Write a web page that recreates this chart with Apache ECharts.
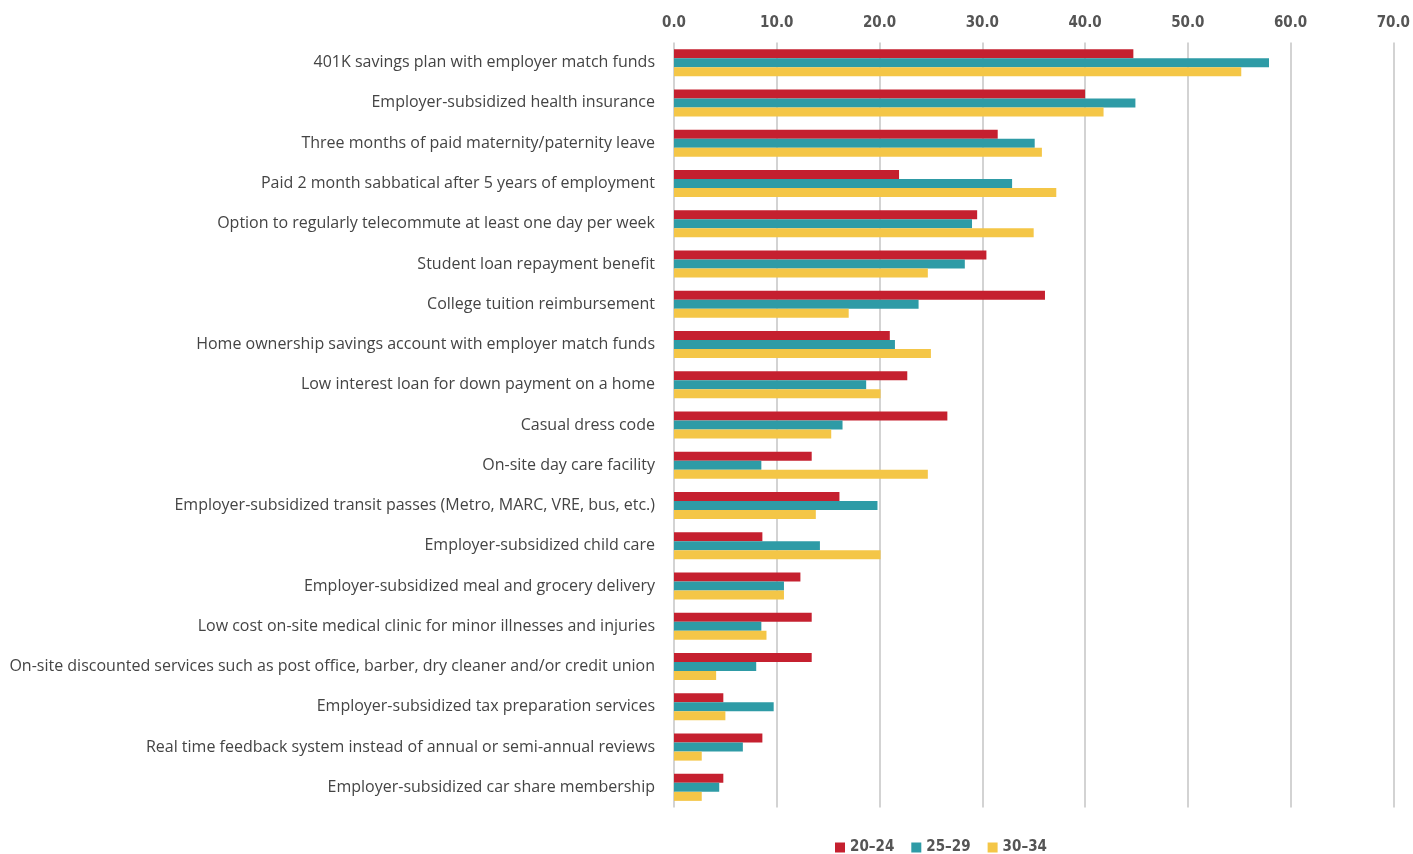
<!DOCTYPE html>
<html>
<head>
<meta charset="utf-8">
<script src="https://cdn.jsdelivr.net/npm/echarts@6/dist/echarts.min.js"></script>
<style>
  html, body { margin: 0; padding: 0; background: #fff; }
  #chart { width: 1413px; height: 854px; }
</style>
</head>
<body>
<div id="chart"></div>
<script>
// categories, top to bottom
const benefits = [
  '401K savings plan with employer match funds',
  'Employer-subsidized health insurance',
  'Three months of paid maternity/paternity leave',
  'Paid 2 month sabbatical after 5 years of employment',
  'Option to regularly telecommute at least one day per week',
  'Student loan repayment benefit',
  'College tuition reimbursement',
  'Home ownership savings account with employer match funds',
  'Low interest loan for down payment on a home',
  'Casual dress code',
  'On-site day care facility',
  'Employer-subsidized transit passes (Metro, MARC, VRE, bus, etc.)',
  'Employer-subsidized child care',
  'Employer-subsidized meal and grocery delivery',
  'Low cost on-site medical clinic for minor illnesses and injuries',
  'On-site discounted services such as post office, barber, dry cleaner and/or credit union',
  'Employer-subsidized tax preparation services',
  'Real time feedback system instead of annual or semi-annual reviews',
  'Employer-subsidized car share membership'
]

// values per age group
const age20to24 = [44.7, 40.0, 31.5, 21.9, 29.5, 30.4, 36.1, 21.0, 22.7, 26.6, 13.4, 16.1, 8.6, 12.3, 13.4, 13.4, 4.8, 8.6, 4.8]
const age25to29 = [57.9, 44.9, 35.1, 32.9, 29.0, 28.3, 23.8, 21.5, 18.7, 16.4, 8.5, 19.8, 14.2, 10.7, 8.5, 8.0, 9.7, 6.7, 4.4]
const age30to34 = [55.2, 41.8, 35.8, 37.2, 35.0, 24.7, 17.0, 25.0, 20.1, 15.3, 24.7, 13.8, 20.1, 10.7, 9.0, 4.1, 5.0, 2.7, 2.7]

const seriesNames = ['20–24', '25–29', '30–34']
const colors = ['#C5202F', '#2E9BA6', '#F4C647']

const condensed = '"DejaVu Sans Condensed", sans-serif'

const chart = echarts.init(document.getElementById('chart'))

function bar (name, data, color) {
  return {
    name: name,
    type: 'bar',
    data: data,
    barWidth: 9,
    barGap: '0%',
    itemStyle: { color: color },
    emphasis: { disabled: true }
  }
}

const option = {
  animation: false,
  color: colors,
  grid: {
    left: 674,
    right: 16,
    top: 42.5,
    height: 765
  },
  legend: {
    left: 830,
    top: 835,
    itemWidth: 10,
    itemHeight: 10,
    itemGap: 17,
    icon: 'rect',
    textStyle: {
      fontFamily: condensed,
      fontWeight: 'bold',
      fontSize: 15,
      color: '#555'
    },
    data: seriesNames
  },
  xAxis: {
    type: 'value',
    position: 'top',
    min: 0,
    max: 70,
    interval: 10,
    axisLine: { show: false },
    axisTick: { show: false },
    axisLabel: {
      margin: 12,
      fontFamily: condensed,
      fontWeight: 'bold',
      fontSize: 15,
      color: '#555',
      formatter: v => v.toFixed(1)
    },
    splitLine: { lineStyle: { color: '#c4c4c4', width: 1.5 } }
  },
  yAxis: {
    type: 'category',
    inverse: true,
    data: benefits,
    axisLine: { show: false },
    axisTick: { show: false },
    axisLabel: {
      margin: 19,
      fontFamily: '"Open Sans", sans-serif',
      fontSize: 16,
      color: '#444'
    }
  },
  series: [
    bar(seriesNames[0], age20to24, colors[0]),
    bar(seriesNames[1], age25to29, colors[1]),
    bar(seriesNames[2], age30to34, colors[2])
  ]
}

chart.setOption(option)
</script>
</body>
</html>
